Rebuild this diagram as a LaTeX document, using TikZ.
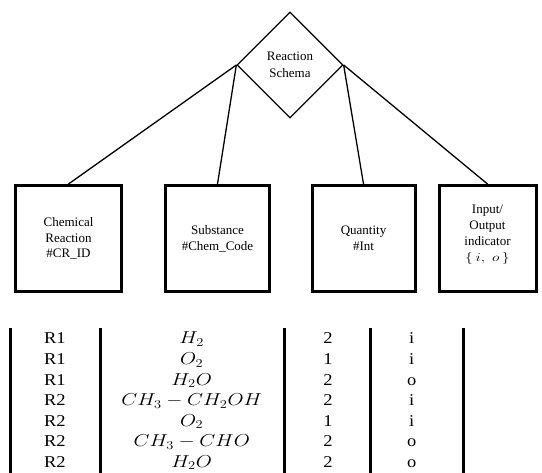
\documentclass[tikz,border=0pt]{standalone}
\usepackage{fontspec}
\setmainfont{Liberation Serif}
\usetikzlibrary{shapes.geometric}

% horizontally widened table entries
\newcommand{\tabtext}[1]{\scalebox{1.12}[1]{#1}}
\newcommand{\tabmath}[1]{\scalebox{1.2}[1]{\fontsize{17.28}{20}\selectfont$#1$}}

\tikzset{
  entity/.style={draw, line width=3pt, inner sep=0pt, minimum height=106pt,
    align=center, font=\fontsize{13}{15.8}\selectfont},
  relation/.style={draw, diamond, aspect=1, line width=1.3pt, inner sep=0pt,
    minimum width=106pt, minimum height=106pt, align=center,
    font=\fontsize{13}{17.3}\selectfont},
  link/.style={line width=1.3pt},
  colrule/.style={line width=2.6pt},
  cell/.style={anchor=base, inner sep=0pt, font=\fontsize{16.5}{20}\selectfont}
}

\begin{document}
\begin{tikzpicture}[x=1pt, y=-1pt]
  \useasboundingbox (0,0) rectangle (542,473);

  % relationship diamond
  \node[relation] (schema) at (290,65) {Reaction\\Schema};

  % entity boxes
  \node[entity, minimum width=106pt] (reaction) at (68.5,238.5)
    {Chemical\\Reaction\\\#CR\_ID};
  \node[entity, minimum width=104pt] (substance) at (217.5,238.5)
    {Substance\\\#Chem\_Code};
  \node[entity, minimum width=103pt] (quantity) at (363.5,238.5)
    {Quantity\\\#Int};
  \node[entity, minimum width=97pt] (inout) at (487.5,238.5)
    {Input/\\Output\\indicator\\\scalebox{1.3}[1]{$\{\,i,\;o\,\}$}\\[-5pt]\mbox{}};

  % links from the diamond to the entities
  \draw[link] (schema.west) -- (reaction.north);
  \draw[link] (schema.west) -- (substance.north);
  \draw[link] (schema.east) -- (quantity.north);
  \draw[link] (schema.east) -- (inout.north);

  % table column rules
  \foreach \cx in {10.7,100.3,284.7,370.3,463.7}
    \draw[colrule] (\cx,328.3) -- (\cx,473);

  % table rows
  \foreach \r/\sub/\q/\io [count=\k from 0] in
    {R1/H_2/2/i, R1/O_2/1/i, R1/H_2O/2/o, R2/CH_3-CH_2OH/2/i,
     R2/O_2/1/i, R2/CH_3-CHO/2/o, R2/H_2O/2/o} {
    \pgfmathsetmacro{\by}{344+20.55*\k}
    \node[cell] (id\k)  at (54.8,\by)  {\tabtext{\r}};
    \node[cell] (sub\k) at (191.7,\by) {\tabmath{\sub}};
    \node[cell] (qty\k) at (328,\by)   {\tabtext{\q}};
    \node[cell] (io\k)  at (411.7,\by) {\tabtext{\io}};
  }
\end{tikzpicture}
\end{document}
